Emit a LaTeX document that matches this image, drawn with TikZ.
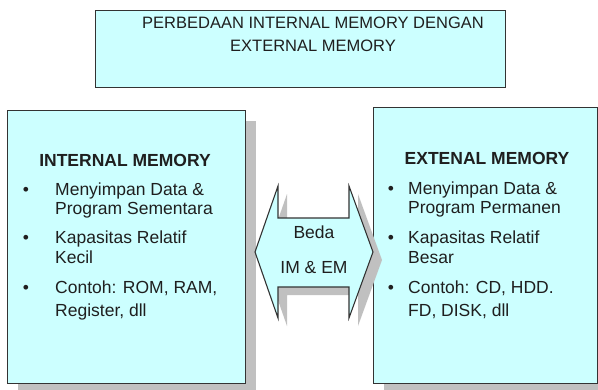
\documentclass[tikz,border=0pt]{standalone}
\usepackage{fontspec}
\setmainfont{Liberation Sans}
\usetikzlibrary{shadows}
\definecolor{boxfill}{HTML}{CCFFFF}
\definecolor{shadowgray}{HTML}{C0C0C0}
\definecolor{inkdark}{HTML}{1F1F1F}
\definecolor{edgedark}{HTML}{333333}
\begin{document}
\begin{tikzpicture}[x=1pt,y=-1pt,
  panel/.style={rectangle, draw=edgedark, line width=1.1pt, fill=boxfill,
    inner sep=0pt, anchor=north west},
  shadowed/.style={drop shadow={shadow xshift=10pt, shadow yshift=-10pt,
    fill=shadowgray, opacity=1}},
  txt/.style={font=\fontsize{17.5}{21}\selectfont, text=inkdark, inner sep=0pt},
  titletxt/.style={txt, font=\fontsize{16.5}{20}\selectfont, anchor=base},
  head/.style={txt, font=\fontsize{17.5}{21}\selectfont\bfseries, anchor=base},
  item/.style={txt, anchor=base west},
  dot/.style={txt, anchor=base},
]
\useasboundingbox (0,0) rectangle (598,389);
\clip (0,0) rectangle (598,389);
\fill[white] (0,0) rectangle (598,389);

% title panel
\node[panel, minimum width=410, minimum height=77] (titlebox) at (95,10) {};
\node[titletxt] (title1) at (313,28) {PERBEDAAN INTERNAL MEMORY DENGAN};
\node[titletxt] (title2) at (313,51) {EXTERNAL MEMORY};

% internal memory panel
\node[panel, shadowed, minimum width=238, minimum height=273] (inbox) at (7,110) {};
\node[head] (inhead) at (125,166) {INTERNAL MEMORY};
\node[dot] (ib1) at (26,195.5) {•};
\node[item] (i1a) at (55,195.5) {Menyimpan Data \&};
\node[item] (i1b) at (55,214.5) {Program Sementara};
\node[dot] (ib2) at (26,243.5) {•};
\node[item] (i2a) at (55,243.5) {Kapasitas Relatif};
\node[item] (i2b) at (55,263.5) {Kecil};
\node[dot] (ib3) at (26,293.5) {•};
\node[item] (i3a) at (55,293.5) {Contoh: ROM, RAM,};
\node[item] (i3b) at (55,316.5) {Register, dll};

% external memory panel
\node[panel, shadowed, minimum width=224, minimum height=276] (exbox) at (373,107) {};
\node[head] (exhead) at (487,164) {EXTENAL MEMORY};
\node[dot] (eb1) at (391,194) {•};
\node[item] (e1a) at (408,194) {Menyimpan Data \&};
\node[item] (e1b) at (408,213) {Program Permanen};
\node[dot] (eb2) at (391,243) {•};
\node[item] (e2a) at (408,243) {Kapasitas Relatif};
\node[item] (e2b) at (408,263) {Besar};
\node[dot] (eb3) at (391,293) {•};
\node[item] (e3a) at (408,293) {Contoh: CD, HDD.};
\node[item] (e3b) at (408,316) {FD, DISK, dll};

% two-headed block arrow between the panels
\draw[draw=edgedark, line width=1.1pt, fill=boxfill, line join=miter,
  drop shadow={shadow xshift=9pt, shadow yshift=-8pt, fill=shadowgray, opacity=1}]
  (255,252) -- (278,186) -- (278,218) -- (349,218) -- (349,186) -- (373,252)
  -- (349,318) -- (349,287) -- (278,287) -- (278,318) -- cycle;
\node[txt, anchor=base] (beda1) at (314,238) {Beda};
\node[txt, anchor=base] (beda2) at (314,273) {IM \& EM};
\end{tikzpicture}
\end{document}
